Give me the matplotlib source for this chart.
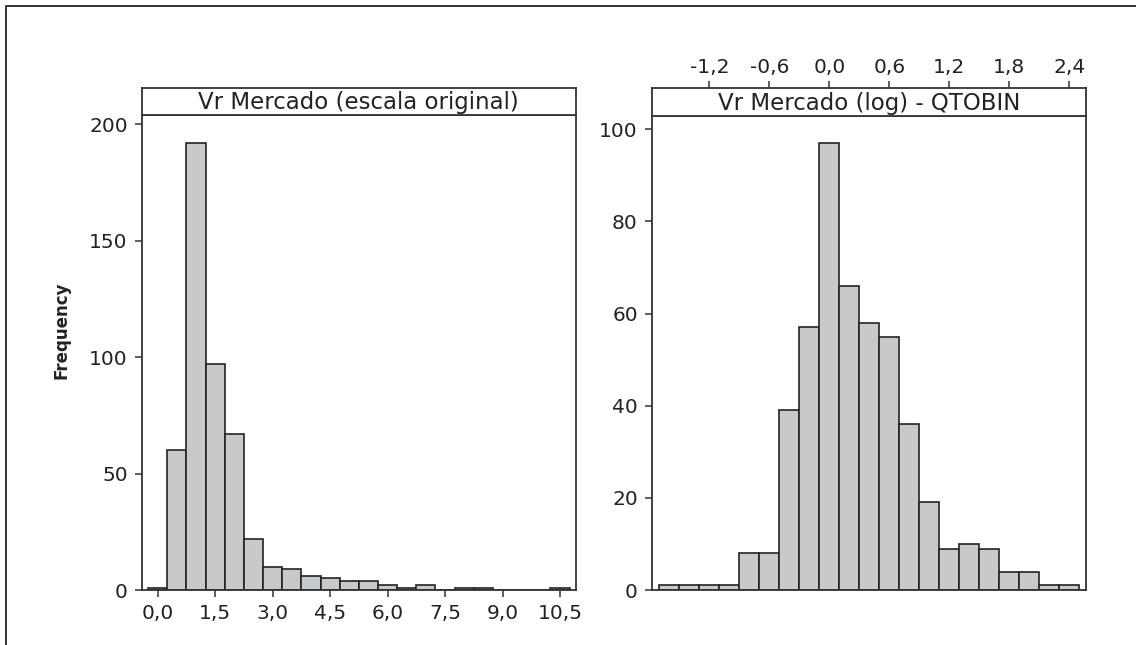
import matplotlib
matplotlib.use("Agg")
import matplotlib.pyplot as plt
from matplotlib.lines import Line2D

# bin centres and counts
orig_centers = [0.0, 0.5, 1.0, 1.5, 2.0, 2.5, 3.0, 3.5, 4.0, 4.5, 5.0,
                5.5, 6.0, 6.5, 7.0, 7.5, 8.0, 8.5, 9.0, 9.5, 10.0, 10.5]
orig_counts = [1, 60, 192, 97, 67, 22, 10, 9, 6, 5, 4,
               4, 2, 1, 2, 0, 1, 1, 0, 0, 0, 1]
orig_ticks = [0.0, 1.5, 3.0, 4.5, 6.0, 7.5, 9.0, 10.5]

log_centers = [-1.6, -1.4, -1.2, -1.0, -0.8, -0.6, -0.4, -0.2, 0.0, 0.2, 0.4,
               0.6, 0.8, 1.0, 1.2, 1.4, 1.6, 1.8, 2.0, 2.2, 2.4]
log_counts = [1, 1, 1, 1, 8, 8, 39, 57, 97, 66, 58,
              55, 36, 19, 9, 10, 9, 4, 4, 1, 1]
log_ticks = [-1.2, -0.6, 0.0, 0.6, 1.2, 1.8, 2.4]

titles = ['Vr Mercado (escala original)', 'Vr Mercado (log) - QTOBIN']

W, H = 1136, 645
face = '#c8c9cb'
edge = '#232323'
spine_c = '#333333'

plt.rcParams['font.family'] = 'DejaVu Sans'
fig = plt.figure(figsize=(W / 100, H / 100), dpi=100)


def box(x0, y0, x1, y1):
    # pixel box (top-left origin) -> figure fraction rect
    return [x0 / W, 1 - y1 / H, (x1 - x0) / W, (y1 - y0) / H]


def comma(v):
    return ('%.1f' % v).replace('.', ',')


def style(ax):
    for s in ax.spines.values():
        s.set_color(spine_c)
        s.set_linewidth(1.3)
    ax.tick_params(colors=spine_c, labelcolor='#222222', labelsize=14.5,
                   length=5, width=1.1)


# left panel
ax1 = fig.add_axes(box(141.7, 115, 575.7, 590))
ax1.bar(orig_centers, orig_counts, width=0.5, color=face, edgecolor=edge, linewidth=1.2)
ax1.set_xlim(-0.418, 10.91)
ax1.set_ylim(0, 204)
ax1.set_xticks(orig_ticks)
ax1.set_xticklabels([comma(t) for t in orig_ticks])
ax1.set_yticks([0, 50, 100, 150, 200])
style(ax1)
ax1.tick_params(axis='x', pad=5)
ax1.tick_params(axis='y', pad=5)

# right panel
ax2 = fig.add_axes(box(651.7, 115.7, 1085.7, 590))
ax2.bar(log_centers, log_counts, width=0.2, color=face, edgecolor=edge, linewidth=1.2)
ax2.set_xlim(-1.776, 2.564)
ax2.set_ylim(0, 102.95)
ax2.set_xticks([])
ax2.set_yticks([0, 20, 40, 60, 80, 100])
style(ax2)
ax2.tick_params(axis='y', pad=5)

# title strips
s1 = fig.add_axes(box(141.7, 88.3, 575.7, 115))
s2 = fig.add_axes(box(651.7, 88.3, 1085.7, 115.7))
for s, t in zip([s1, s2], titles):
    s.set_yticks([])
    s.text(0.5, 0.45, t, transform=s.transAxes, ha='center', va='center',
           fontsize=16.5, color='#222222')
    style(s)
s1.set_xticks([])
s2.set_xlim(ax2.get_xlim())
s2.set_xticks(log_ticks)
s2.set_xticklabels([comma(t) for t in log_ticks])
s2.xaxis.tick_top()
s2.tick_params(axis='x', pad=3)

fig.text(62 / W, 1 - 330 / H, 'Frequency', rotation=90, ha='center', va='center',
         fontsize=12, fontweight='bold', color='#222222')

# outer frame (open on the right and bottom)
fig.add_artist(Line2D([6 / W, 6 / W, 1.0], [0.0, 1 - 6 / H, 1 - 6 / H],
                      transform=fig.transFigure, color='#222222', linewidth=1.3))

fig.savefig('out.png', dpi=100, facecolor='white')
